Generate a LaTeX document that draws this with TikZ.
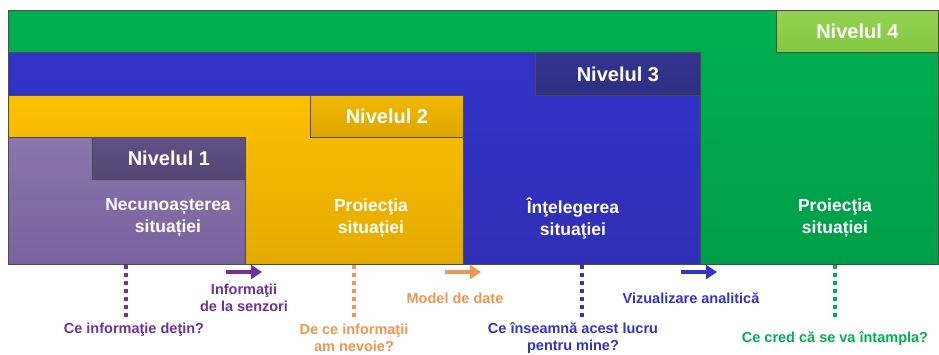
\documentclass[tikz,border=0pt]{standalone}
\usepackage{fontspec}
\setmainfont{Liberation Sans}
\usetikzlibrary{arrows.meta}

\definecolor{greenTop}{RGB}{0,175,80}
\definecolor{greenBot}{RGB}{0,158,74}
\definecolor{blueTop}{RGB}{51,51,202}
\definecolor{blueBot}{RGB}{47,47,182}
\definecolor{yellowTop}{RGB}{252,192,0}
\definecolor{yellowBot}{RGB}{228,170,0}
\definecolor{purpleTop}{RGB}{137,118,170}
\definecolor{purpleBot}{RGB}{120,98,160}
\definecolor{tabOne}{RGB}{96,80,132}
\definecolor{tabOneBot}{RGB}{86,70,118}
\definecolor{tabTwo}{RGB}{242,184,0}
\definecolor{tabTwoBot}{RGB}{221,166,0}
\definecolor{tabThree}{RGB}{52,52,145}
\definecolor{tabThreeBot}{RGB}{46,46,130}
\definecolor{tabFour}{RGB}{146,210,80}
\definecolor{tabFourBot}{RGB}{134,200,66}
\definecolor{txtPurple}{RGB}{112,48,160}
\definecolor{txtOrange}{RGB}{240,150,80}
\definecolor{txtBlue}{RGB}{51,51,204}
\definecolor{txtGreen}{RGB}{0,176,80}

\begin{document}
\begin{tikzpicture}[x=1pt, y=-1pt,
    level/.style={rectangle, draw=black!70, line width=0.8pt, inner sep=0pt, anchor=north west},
    tab/.style={level, text=white, font=\fontsize{20}{24}\selectfont\bfseries},
    body/.style={text=white, align=center, font=\fontsize{17.5}{22}\selectfont\bfseries},
    note/.style={align=center, font=\fontsize{14.5}{17}\selectfont\bfseries},
    probe/.style={line width=3.2pt, dash pattern=on 4pt off 4pt},
    flow/.style={line width=4pt, -{Triangle[length=11pt, width=14pt]}}]
    \useasboundingbox (0,0) rectangle (939,355);

    % Stacked levels
    \node[level, top color=greenTop, bottom color=greenBot, minimum width=930pt, minimum height=254pt] (green) at (8,10) {};
    \node[level, top color=blueTop, bottom color=blueBot, minimum width=692pt, minimum height=212pt] (blue) at (8,52) {};
    \node[level, top color=yellowTop, bottom color=yellowBot, minimum width=455pt, minimum height=169pt] (yellow) at (8,95) {};
    \node[level, top color=purpleTop, bottom color=purpleBot, minimum width=237pt, minimum height=127pt] (purple) at (8,137) {};

    % Level tabs
    \node[tab, top color=tabOne, bottom color=tabOneBot, minimum width=153pt, minimum height=42pt] (tab1) at (92,137) {Nivelul 1};
    \node[tab, top color=tabTwo, bottom color=tabTwoBot, minimum width=153pt, minimum height=42pt] (tab2) at (310,95) {Nivelul 2};
    \node[tab, top color=tabThree, bottom color=tabThreeBot, minimum width=165pt, minimum height=43pt] (tab3) at (535,52) {Nivelul 3};
    \node[tab, top color=tabFour, bottom color=tabFourBot, minimum width=162pt, minimum height=42pt] (tab4) at (776,10) {Nivelul 4};

    % Level texts
    \node[body] (necun) at (168,218) {Necunoașterea\\situației};
    \node[body] (proi1) at (371,218) {Proiecţia\\situației};
    \node[body] (intel) at (573,218) {Înţelegerea\\situaţiei};
    \node[body] (proi2) at (835,218) {Proiecţia\\situației};

    % Questions
    \node[note, text=txtPurple] (q1) at (134,330) {Ce informaţie deţin?};
    \node[note, text=txtOrange] (q2) at (354,338) {De ce informaţii\\am nevoie?};
    \node[note, text=txtBlue] (q3) at (573,338) {Ce înseamnă acest lucru\\pentru mine?};
    \node[note, text=txtGreen] (q4) at (835,339) {Ce cred că se va întampla?};

    \coordinate (d1) at (126,318);
    \coordinate (d2) at (354,318);
    \coordinate (d3) at (582,318);
    \coordinate (d4) at (835,318);
    \draw[probe, txtPurple] (purple.south -| d1) -- (d1);
    \draw[probe, txtOrange] (yellow.south -| d2) -- (d2);
    \draw[probe, txtBlue] (blue.south -| d3) -- (d3);
    \draw[probe, txtGreen] (green.south -| d4) -- (d4);

    % Flows between levels
    \coordinate (f1a) at (226,272);
    \coordinate (f1b) at (262,272);
    \coordinate (f2a) at (445,272);
    \coordinate (f2b) at (481,272);
    \coordinate (f3a) at (681,272);
    \coordinate (f3b) at (717,272);
    \draw[flow, txtPurple] (f1a) -- (f1b);
    \draw[flow, txtOrange] (f2a) -- (f2b);
    \draw[flow, txtBlue] (f3a) -- (f3b);
    \node[note, text=txtPurple] (lab1) at (244,298) {Informaţii\\de la senzori};
    \node[note, text=txtOrange] (lab2) at (455,298) {Model de date};
    \node[note, text=txtBlue] (lab3) at (691,298) {Vizualizare analitică};
\end{tikzpicture}
\end{document}
